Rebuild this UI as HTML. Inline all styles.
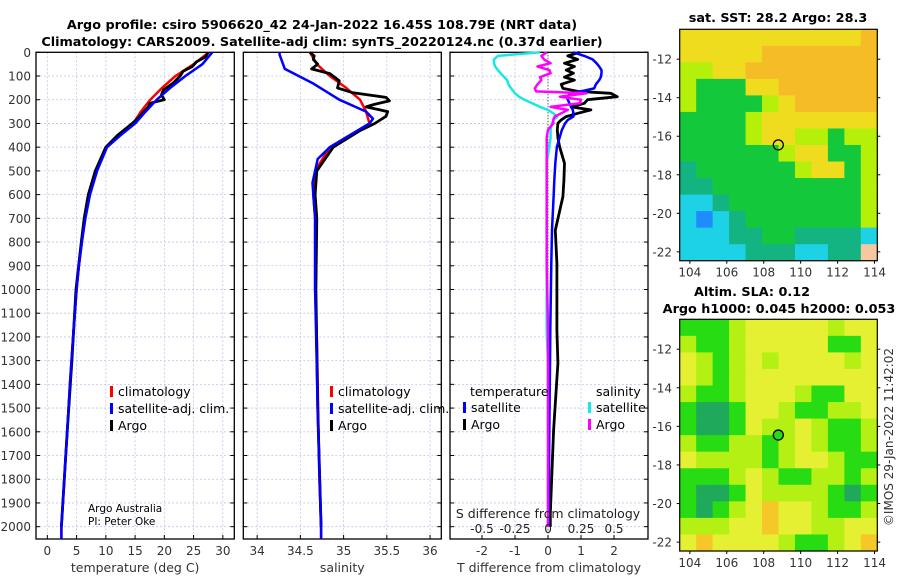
<!DOCTYPE html>
<html><head><meta charset="utf-8"><style>
body{margin:0;background:#fff;}
svg{display:block;font-family:"DejaVu Sans","Liberation Sans",sans-serif;}
</style></head><body>
<svg id="fig" width="900" height="580" viewBox="0 0 900 580">
<g font-weight="bold" font-size="12.8" text-anchor="middle" fill="#000">
<text x="322" y="29">Argo profile: csiro 5906620_42 24-Jan-2022 16.45S 108.79E (NRT data)</text>
<text x="322" y="46">Climatology: CARS2009. Satellite-adj clim: synTS_20220124.nc (0.37d earlier)</text>
</g>
</svg>
<script>
// ---------- data ----------
const depthTicks=[0,100,200,300,400,500,600,700,800,900,1000,1100,1200,1300,1400,1500,1600,1700,1800,1900,2000];
const climDepth=[0,50,100,150,200,250,300,350,400,500,600,700,800,900,1000,1200,1400,1600,1800,2000,2052];
const climTemp=[27.6,25,21.9,19.6,17.6,16,14.7,12.2,10.0,8.4,7.2,6.4,5.9,5.4,5.0,4.4,3.85,3.4,2.9,2.4,2.4];
const satTemp=[28.2,26.5,23.6,21,18.7,16.8,15,12.5,10.2,8.5,7.3,6.5,5.9,5.4,5.0,4.4,3.85,3.4,2.9,2.4,2.4];
const argoDepth=[0,20,40,60,80,100,130,160,180,200,215,230,250,270,300,350,400,500,600,700,800,1000,1300,1600,2000];
const argoTemp=[27.5,27,25.5,24.8,23.2,22.7,21.5,19.8,19.5,20,17.5,17.3,16.5,15.8,14.5,12,10,8.2,7.0,6.3,5.8,4.9,4.2,3.4,2.4];
const climSal=[34.61,34.69,34.84,35.03,35.19,35.26,35.30,35.07,34.84,34.67,34.65,34.67,34.67,34.67,34.67,34.69,34.70,34.71,34.72,34.74,34.74];
const satSalDepth=[0,10,70,130,200,250,280,300,350,400,450,500,550,600,700,1000,1500,2000,2052];
const satSal=[34.26,34.26,34.32,34.64,34.95,35.26,35.34,35.30,35.07,34.84,34.70,34.67,34.64,34.65,34.67,34.67,34.70,34.74,34.74];
const argoSalDepth=[0,15,30,50,70,90,120,150,170,190,205,220,230,250,270,300,330,400,500,600,700,1000,1500,2000];
const argoSal=[34.61,34.66,34.65,34.70,34.63,34.84,34.95,34.93,35.10,35.49,35.53,35.35,35.26,35.51,35.49,35.36,35.19,34.88,34.69,34.67,34.69,34.68,34.70,34.74];
const dDepth=[0,15,30,46,60,75,88,105,117,135,152,165,173,187,200,215,230,243,257,271,285,299,327,360,398,468,540,609,750,890,1171,1311,1593,1944,2000];
const tSatDiff=[0.77,1.1,1.35,1.47,1.55,1.62,1.62,1.6,1.55,1.45,1.4,1.0,0.7,0.57,0.6,0.65,0.7,0.75,0.77,0.77,0.6,0.52,0.42,0.35,0.27,0.22,0.19,0.17,0.12,0.1,0.07,0.06,0.04,0.02,0.02];
const tArgoDiff=[0.96,0.6,0.9,0.5,0.8,0.55,0.77,0.5,0.8,0.4,0.45,0.9,1.9,2.1,1.2,1.1,0.7,1.3,0.9,0.55,0.4,0.3,0.28,0.3,0.35,0.5,0.48,0.45,0.22,0.27,0.27,0.3,0.17,0.07,0.07];
const sSatDiff=[-0.06,-0.38,-0.41,-0.41,-0.40,-0.38,-0.36,-0.33,-0.31,-0.30,-0.28,-0.26,-0.25,-0.22,-0.18,-0.12,-0.06,0.0,0.04,0.07,0.04,0.03,0.02,0.02,0.01,-0.01,-0.01,-0.01,-0.01,-0.01,-0.01,0.0,0.0,0.0,0.0];
const sArgoDiff=[-0.01,-0.05,-0.03,0.02,-0.08,0.01,0.02,-0.06,-0.05,-0.08,-0.1,-0.09,0.29,0.09,0.25,0.24,0.02,0.15,0.1,0.05,0.04,0.04,0.0,-0.01,-0.01,-0.01,-0.01,-0.01,-0.01,-0.01,0.0,0.0,0.0,0.0,0.0];
const tempTicks=[0,5,10,15,20,25,30];
const salTicks=[34,34.5,35,35.5,36];
const tDiffTicks=[-2,-1,0,1,2];
const sDiffTicks=[-0.5,-0.25,0,0.25,0.5];
const sDiffLabels=["-0.5","-0.25","0","0.25","0.5"];
const latTicks=[-12,-14,-16,-18,-20,-22];
const lonTicks=[104,106,108,110,112,114];
const sstGrid=["555555555556","555556666666","445566666666","433355666666","433334566666","333345555555","333345544344","333333455334","233333345534","223333333334","112333333334","101233333334","111223322221","111122211227"];
const slaGrid=["333455555455","433455555335","543454555545","543455555555","433455543355","322355433445","322354454334","433443454334","544443455433","333454334434","322354444323","323456554334","444556554455","565555433456"];
const sstColors=["#1e8cff","#1ed2e6","#14b482","#14c83c","#b4f00a","#f0dc1e","#f5bc28","#f5c8a0"];
const slaColors=["#1e8cff","#1ed2e6","#1eaa5a","#28dc14","#b4f014","#e6f032","#f5c828"];
const argoPos=[108.79,-16.45];

// ---------- helpers ----------
const NS="http://www.w3.org/2000/svg";
const fig=document.getElementById('fig');
function mk(tag,attrs,parent){const e=document.createElementNS(NS,tag);for(const k in attrs)e.setAttribute(k,attrs[k]);(parent||fig).appendChild(e);return e;}
const Y0=52.3,Y1=539,DMAX=2052;
const yD=d=>Y0+(Y1-Y0)*d/DMAX;

function panel(name,x0,x1,xmin,xmax,xt,xlab,showY){
  const sx=v=>x0+(x1-x0)*(v-xmin)/(xmax-xmin);
  const g=mk('g',{});
  
  
  depthTicks.forEach(d=>{const l=mk('line',{x1:x0,x2:x1,y1:yD(d),y2:yD(d),stroke:'#c0c4e8','stroke-width':0.8,'stroke-dasharray':'2,2'},g);
    
    mk('line',{x1:x0,x2:x0+4,y1:yD(d),y2:yD(d),stroke:'#000'},g);mk('line',{x1:x1-4,x2:x1,y1:yD(d),y2:yD(d),stroke:'#000'},g);
    if(showY){const t=mk('text',{x:31,y:yD(d)+4.5,'text-anchor':'end','font-size':12,fill:'#333'},g);t.textContent=d;
      }
  });
  xt.forEach(v=>{const l=mk('line',{x1:sx(v),x2:sx(v),y1:Y0,y2:Y1,stroke:'#c0c4e8','stroke-width':0.8,'stroke-dasharray':'2,2'},g);
    
    mk('line',{x1:sx(v),x2:sx(v),y1:Y1-4,y2:Y1,stroke:'#000'},g);
    const t=mk('text',{x:sx(v),y:555,'text-anchor':'middle','font-size':12,fill:'#333'},g);t.textContent=v;
    });
  const r=mk('rect',{x:x0,y:Y0,width:x1-x0,height:Y1-Y0,fill:'none',stroke:'#000','stroke-width':1.3},g);
  
  const t=mk('text',{x:(x0+x1)/2,y:572,'text-anchor':'middle','font-size':12.5,fill:'#333'},g);t.textContent=xlab;
  
  return {g,sx};
}
function line(p,xs,ds,col,w,name){
  const pts=xs.map((v,i)=>p.sx(v).toFixed(1)+','+yD(ds[i]).toFixed(1)).join(' ');
  const l=mk('polyline',{points:pts,fill:'none',stroke:col,'stroke-width':w,'stroke-linejoin':'round'},p.g);
  
}
function legend(g,x,y,items){
  items.forEach((it,i)=>{mk('rect',{x:x,y:y+i*17-10,width:3,height:11,fill:it[0]},g);
    const t=mk('text',{x:x+8,y:y+i*17,'font-size':12.5,fill:'#000'},g);t.textContent=it[1];
    });
}
function txt(g,x,y,s,size,anchor,name,extra){const t=mk('text',Object.assign({x:x,y:y,'font-size':size,'text-anchor':anchor||'start',fill:'#000'},extra||{}),g);t.textContent=s;
  return t;}

// Panel 1: temperature
const p1=panel('temperature-panel',36,234.3,-1.94,31.96,tempTicks,'temperature (deg C)',true);
line(p1,climTemp,climDepth,'#f00',2.5,'climatology-temp-line');
line(p1,argoTemp,argoDepth,'#000',2.8,'argo-temp-line');
line(p1,satTemp,climDepth,'#00f',2.5,'satellite-temp-line');
legend(p1.g,110,396,[['#f00','climatology'],['#00f','satellite-adj. clim.'],['#000','Argo']]);
txt(p1.g,88,512,'Argo Australia',10.5,'start','credit-argo-australia');
txt(p1.g,88,525,'PI: Peter Oke',10.5,'start','credit-pi');

// Panel 2: salinity
const p2=panel('salinity-panel',243.3,441.3,33.84,36.13,salTicks,'salinity',false);
line(p2,climSal,climDepth,'#f00',2.5,'climatology-sal-line');
line(p2,argoSal,argoSalDepth,'#000',2.8,'argo-sal-line');
line(p2,satSal,satSalDepth,'#00f',2.5,'satellite-sal-line');
legend(p2.g,330,396,[['#f00','climatology'],['#00f','satellite-adj. clim.'],['#000','Argo']]);

// Panel 3: differences
const p3=panel('difference-panel',450,648,-2.97,3.03,tDiffTicks,'T difference from climatology',false);
mk('line',{x1:p3.sx(0),x2:p3.sx(0),y1:Y0,y2:Y1,stroke:'#000','stroke-width':0.8,'stroke-dasharray':'1,2'},p3.g);
const sAsT=a=>a.map(v=>v*4);
line(p3,sAsT(sSatDiff),dDepth,'#19e6e6',2.5,'salinity-satellite-diff-line');
line(p3,tArgoDiff,dDepth,'#000',2.8,'temperature-argo-diff-line');
line(p3,tSatDiff,dDepth,'#00f',2.5,'temperature-satellite-diff-line');
line(p3,sAsT(sArgoDiff),dDepth,'#f0f',2.5,'salinity-argo-diff-line');
txt(p3.g,470,396,'temperature',12.5,'start','legend-title-temperature');
legend(p3.g,463,412,[['#00f','satellite'],['#000','Argo']]);
txt(p3.g,596,396,'salinity',12.5,'start','legend-title-salinity');
legend(p3.g,588,412,[['#19e6e6','satellite'],['#f0f','Argo']]);
txt(p3.g,548,518,'S difference from climatology',12.5,'middle','s-axis-title',{fill:'#222'});
sDiffTicks.forEach((v,i)=>{txt(p3.g,p3.sx(v*4),533,sDiffLabels[i],12,'middle','s-tick-label',{fill:'#222'});});

// Maps
function map(name,top,bot,grid,cols){
  const x0=679.7,x1=877.3,lonMin=103.45,lonMax=114.15,latTop=-10.45,latBot=-22.46;
  const sx=v=>x0+(x1-x0)*(v-lonMin)/(lonMax-lonMin);
  const sy=v=>top+(bot-top)*(v-latTop)/(latBot-latTop);
  const g=mk('g',{});
  
  const nr=grid.length,nc=grid[0].length,cw=(x1-x0)/nc,ch=(bot-top)/nr;
  grid.forEach((row,r)=>{for(let c=0;c<nc;c++){const e=mk('rect',{x:x0+c*cw,y:top+r*ch,width:cw+0.6,height:ch+0.6,fill:cols[+row[c]]},g);
    }});
  mk('rect',{x:x0,y:top,width:x1-x0,height:bot-top,fill:'none',stroke:'#000','stroke-width':1.2},g);
  latTicks.forEach(v=>{mk('line',{x1:x0-3,x2:x0,y1:sy(v),y2:sy(v),stroke:'#000'},g);mk('line',{x1:x1,x2:x1+3,y1:sy(v),y2:sy(v),stroke:'#000'},g);
    txt(g,672,sy(v)+4.5,String(v),12,'end','lat-tick-label',{fill:'#333'});});
  lonTicks.forEach(v=>{mk('line',{x1:sx(v),x2:sx(v),y1:bot,y2:bot+3,stroke:'#000'},g);
    txt(g,sx(v),bot+16,String(v),12,'middle','lon-tick-label',{fill:'#333'});});
  return {g,sx,sy};
}
const m1=map('sst-map',29.3,260.7,sstGrid,sstColors);
const c1=mk('circle',{cx:m1.sx(argoPos[0]),cy:m1.sy(argoPos[1]),r:5,fill:'none',stroke:'#000','stroke-width':1.3},m1.g);

txt(m1.g,778,22,'sat. SST: 28.2 Argo: 28.3',12.8,'middle','sst-map-title',{'font-weight':'bold'});
const m2=map('sla-map',319.3,551,slaGrid,slaColors);
const c2=mk('circle',{cx:m2.sx(argoPos[0]),cy:m2.sy(argoPos[1]),r:5,fill:'#28dc14',stroke:'#000','stroke-width':1.3},m2.g);

txt(m2.g,752,296,'Altim. SLA: 0.12',12.8,'middle','sla-map-title',{'font-weight':'bold'});
txt(m2.g,779,313,'Argo h1000: 0.045 h2000: 0.053',12.8,'middle','sla-map-subtitle',{'font-weight':'bold'});
txt(fig,893,437,'©IMOS 29-Jan-2022 11:42:02',12,'middle','copyright',{fill:'#333',transform:'rotate(-90 893 437)'});
</script>
</body></html>
